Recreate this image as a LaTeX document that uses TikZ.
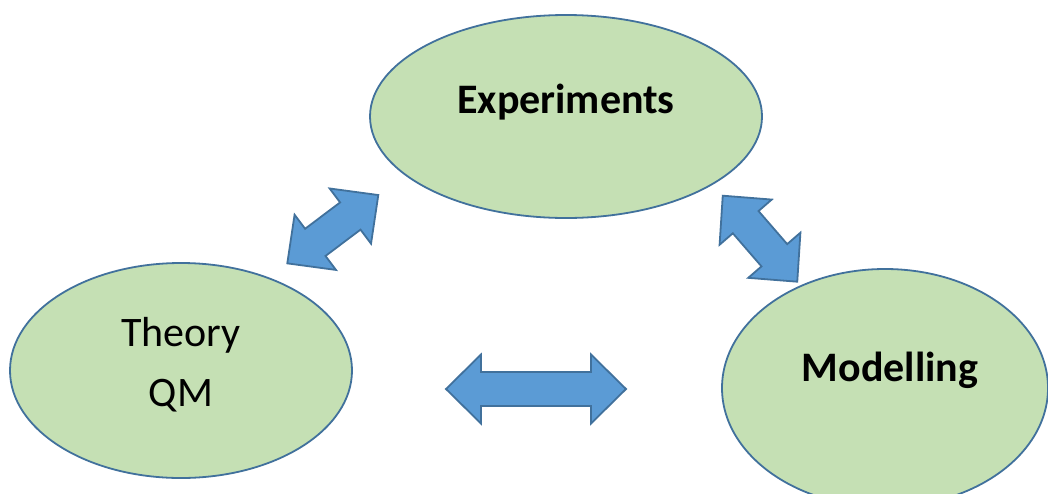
\documentclass[tikz,border=0pt]{standalone}
\usepackage{fontspec}
\setmainfont{Carlito}
\usetikzlibrary{shapes.geometric}
\definecolor{ellfill}{HTML}{C5E0B4}
\definecolor{edgeblue}{HTML}{41719C}
\definecolor{arrfill}{HTML}{5B9BD5}
\tikzset{
  bubble/.style={ellipse, draw=edgeblue, fill=ellfill, line width=1.8pt, inner sep=0pt},
  label/.style={inner sep=0pt, anchor=base, font=\fontsize{42}{60}\selectfont},
  blockarrow/.style={draw=edgeblue, fill=arrfill, line width=1.8pt, line join=miter},
}
% #1 centre, #2 angle, #3 half length
\newcommand\dblarrow[3]{%
  \begin{scope}[shift={#1}, rotate=#2]
    \draw[blockarrow] (#3,0) -- ({#3-35},34.5) -- ({#3-35},17) -- ({-#3+35},17)
      -- ({-#3+35},34.5) -- (-#3,0) -- ({-#3+35},-34.5) -- ({-#3+35},-17)
      -- ({#3-35},-17) -- ({#3-35},-34.5) -- cycle;
  \end{scope}}
\begin{document}
\begin{tikzpicture}[x=1pt, y=-1pt]
\useasboundingbox (0,0) rectangle (1048,493);
\fill[white] (0,0) rectangle (1048,493);
% ellipses
\node[bubble, minimum width=392pt, minimum height=203pt] (exp) at (566,116.5) {};
\node[bubble, minimum width=342pt, minimum height=215pt] (theo) at (181,370.5) {};
\node[bubble, minimum width=326pt, minimum height=238pt] (mod) at (885,388) {};
% texts
\node[label, font=\fontsize{42}{60}\selectfont\bfseries] (expt) at (566,113) {Experiments};
\node[label] (theot) at (181,346.7) {Theory};
\node[label] (qmt) at (181,406.7) {QM};
\node[label, font=\fontsize{42}{60}\selectfont\bfseries] (modt) at (890,381.7) {Modelling};
% double block arrows
\dblarrow{(332.8,229.2)}{36.9}{56.9}
\dblarrow{(760,238.7)}{-49.1}{56.9}
\dblarrow{(536,389)}{0}{90}
\end{tikzpicture}
\end{document}
